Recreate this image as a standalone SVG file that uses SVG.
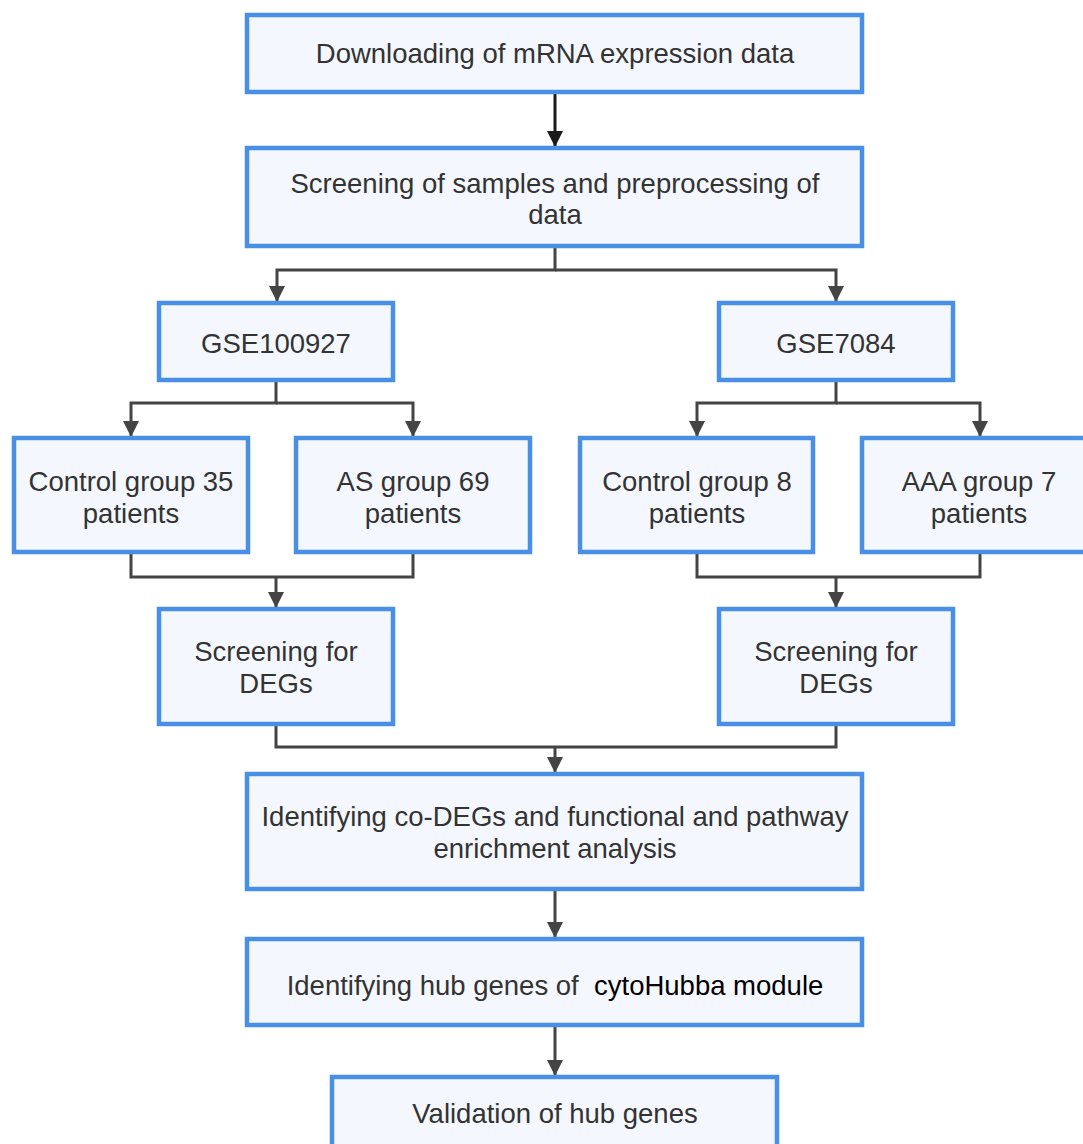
<svg xmlns="http://www.w3.org/2000/svg" width="1083" height="1144" viewBox="0 0 1083 1144">
<style>
.box{fill:#f4f7fd;stroke:#4a8fe6;stroke-width:4.5}
.t{font-family:"Liberation Sans",Arial,sans-serif;font-size:27.5px;fill:#333;text-anchor:middle}
.c{fill:none;stroke:#444;stroke-width:3}
</style>
<defs>
<marker id="ah" viewBox="0 0 10 10" refX="10" refY="5" markerWidth="5.5" markerHeight="5.5" markerUnits="strokeWidth" orient="auto">
<path d="M0,0 L10,5 L0,10 z" fill="#444"/>
</marker>
<marker id="ahk" viewBox="0 0 10 10" refX="10" refY="5" markerWidth="5.5" markerHeight="5.5" markerUnits="strokeWidth" orient="auto">
<path d="M0,0 L10,5 L0,10 z" fill="#1a1a1a"/>
</marker>
</defs>
<rect width="1083" height="1144" fill="#fff"/>
<g id="connectors">
<path class="c" d="M555,92 V147" style="stroke:#1a1a1a" marker-end="url(#ahk)"/>
<path class="c" d="M555,246 V270 H277 V302" marker-end="url(#ah)"/>
<path class="c" d="M555,270 H836 V302" marker-end="url(#ah)"/>
<path class="c" d="M276,380 V403 H131 V437" marker-end="url(#ah)"/>
<path class="c" d="M276,403 H413 V437" marker-end="url(#ah)"/>
<path class="c" d="M836,380 V403 H697 V437" marker-end="url(#ah)"/>
<path class="c" d="M836,403 H980 V437" marker-end="url(#ah)"/>
<path class="c" d="M131,552 V577 H413 V552"/>
<path class="c" d="M276,577 V608" marker-end="url(#ah)"/>
<path class="c" d="M697,552 V577 H980 V552"/>
<path class="c" d="M836,577 V608" marker-end="url(#ah)"/>
<path class="c" d="M276,724 V747 H836 V724"/>
<path class="c" d="M555,747 V773" marker-end="url(#ah)"/>
<path class="c" d="M555,889 V938" marker-end="url(#ah)"/>
<path class="c" d="M555,1025 V1076" marker-end="url(#ah)"/>
</g>
<g id="n1"><rect class="box" x="247" y="15" width="615" height="77"/><text class="t" x="555" y="63">Downloading of mRNA expression data</text></g>
<g id="n2"><rect class="box" x="247" y="148" width="615" height="98"/><text class="t" x="555" y="193">Screening of samples and preprocessing of</text><text class="t" x="555" y="224">data</text></g>
<g id="n3"><rect class="box" x="159" y="303" width="234" height="77"/><text class="t" x="276" y="353">GSE100927</text></g>
<g id="n4"><rect class="box" x="719" y="303" width="234" height="77"/><text class="t" x="836" y="353">GSE7084</text></g>
<g id="n5"><rect class="box" x="14" y="438" width="234" height="114"/><text class="t" x="131" y="491">Control group 35</text><text class="t" x="131" y="523">patients</text></g>
<g id="n6"><rect class="box" x="296" y="438" width="234" height="114"/><text class="t" x="413" y="491">AS group 69</text><text class="t" x="413" y="523">patients</text></g>
<g id="n7"><rect class="box" x="580" y="438" width="233" height="114"/><text class="t" x="697" y="491">Control group 8</text><text class="t" x="697" y="523">patients</text></g>
<g id="n8"><rect class="box" x="862" y="438" width="230" height="114"/><text class="t" x="979" y="491">AAA group 7</text><text class="t" x="979" y="523">patients</text></g>
<g id="n9"><rect class="box" x="159" y="609" width="234" height="115"/><text class="t" x="276" y="661">Screening for</text><text class="t" x="276" y="693">DEGs</text></g>
<g id="n10"><rect class="box" x="719" y="609" width="234" height="115"/><text class="t" x="836" y="661">Screening for</text><text class="t" x="836" y="693">DEGs</text></g>
<g id="n11"><rect class="box" x="247" y="774" width="615" height="115"/><text class="t" x="555" y="826">Identifying co-DEGs and functional and pathway</text><text class="t" x="555" y="858">enrichment analysis</text></g>
<g id="n12"><rect class="box" x="247" y="939" width="615" height="86"/><text class="t" x="555" y="995" xml:space="preserve">Identifying hub genes of  <tspan fill="#000">cytoHubba module</tspan></text></g>
<g id="n13"><rect class="box" x="332" y="1077" width="445" height="80"/><text class="t" x="555" y="1123">Validation of hub genes</text></g>
</svg>
